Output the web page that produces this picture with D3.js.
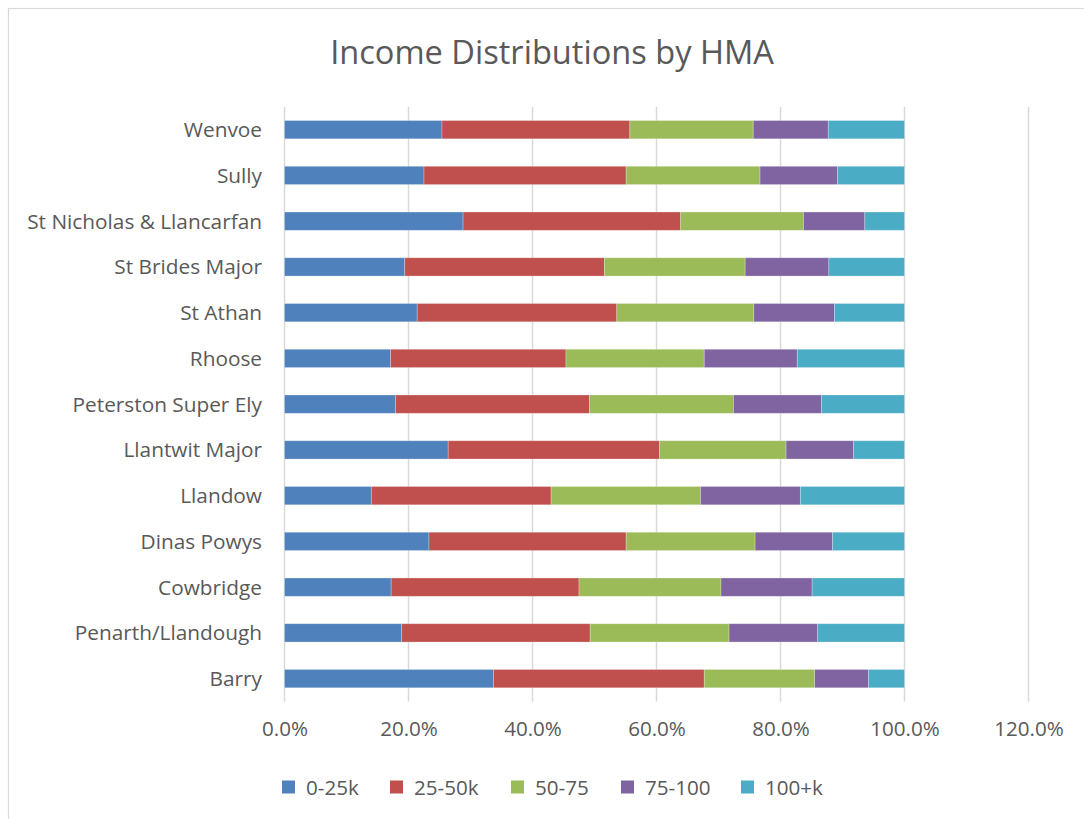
<!DOCTYPE html>
<html><head><meta charset="utf-8">
<script src="https://cdn.jsdelivr.net/npm/d3@7"></script>
<style>body{margin:0;background:#fff;} text{font-family:"Open Sans",Lato,sans-serif;fill:#595959;}</style>
</head><body><svg id="c" width="1084" height="819"></svg>
<script>
const categories = ["Wenvoe","Sully","St Nicholas & Llancarfan","St Brides Major","St Athan","Rhoose","Peterston Super Ely","Llantwit Major","Llandow","Dinas Powys","Cowbridge","Penarth/Llandough","Barry"];
const seriesNames = ["0-25k","25-50k","50-75","75-100","100+k"];
const s0_25k  = [25.4,22.5,28.8,19.4,21.4,17.1,17.9,26.4,14.0,23.3,17.2,18.9,33.7];
const s25_50k = [30.3,32.6,35.1,32.2,32.2,28.3,31.3,34.1,29.0,31.8,30.3,30.4,34.0];
const s50_75  = [19.9,21.6,19.8,22.7,22.1,22.3,23.2,20.4,24.1,20.8,22.9,22.4,17.8];
const s75_100 = [12.1,12.5, 9.9,13.5,13.0,15.0,14.2,10.9,16.1,12.5,14.7,14.3, 8.7];
const s100k   = [12.3,10.8, 6.4,12.2,11.3,17.3,13.4, 8.2,16.8,11.6,14.9,14.0, 5.8];
const tickValues = [0,20,40,60,80,100,120];
const colors = ["#4F81BD","#C0504D","#9BBB59","#8064A2","#4BACC6"];

const seriesValues = [s0_25k,s25_50k,s50_75,s75_100,s100k];
const rows = categories.map((c,i)=>{const r={cat:c}; seriesNames.forEach((s,j)=>r[s]=seriesValues[j][i]); return r;});
const stacked = d3.stack().keys(seriesNames)(rows);

const svg = d3.select("#c");
// outer border
svg.append("rect").attr("x",8.5).attr("y",8.5).attr("width",1100).attr("height",820)
  .attr("fill","none").attr("stroke","#d9d9d9").attr("stroke-width",1.2);

const x = d3.scaleLinear().domain([0,120]).range([284.5,1028.5]);
const y = d3.scaleBand().domain(categories).range([106.8,701.5]).paddingInner(0.6).paddingOuter(0.3);

// gridlines
svg.append("g").selectAll("line").data(tickValues).join("line")
  .attr("x1",d=>x(d)).attr("x2",d=>x(d)).attr("y1",106.8).attr("y2",701.5)
  .attr("stroke","#d9d9d9").attr("stroke-width",1.5);

// bars
svg.append("g").selectAll("g").data(stacked).join("g")
  .attr("fill",(d,i)=>colors[i])
  .selectAll("rect").data(d=>d).join("rect")
  .attr("x",d=>x(d[0])).attr("width",d=>x(d[1])-x(d[0]))
  .attr("y",d=>y(d.data.cat)).attr("height",y.bandwidth())
  .attr("stroke","#ffffff").attr("stroke-opacity",0.35).attr("stroke-width",0.75);

// category labels
const yAxis = d3.axisLeft(y).tickSize(0).tickPadding(0);
const ya = svg.append("g").attr("transform","translate(262,0)").call(yAxis);
ya.select(".domain").remove();
ya.selectAll("text").style("font-size","20.8px").style("font-family","'Open Sans',sans-serif").attr("fill","#595959").attr("dy","0.36em");

// x tick labels
const xAxis = d3.axisBottom(x).tickValues(tickValues).tickSize(0).tickFormat(d=>d.toFixed(1)+"%");
const xa = svg.append("g").attr("transform","translate(0,718.5)").call(xAxis);
xa.select(".domain").remove();
xa.selectAll("text").style("font-size","20.6px").style("font-family","'Open Sans',sans-serif").attr("fill","#595959");

// title
svg.append("text").attr("x",552).attr("y",64).attr("text-anchor","middle")
  .style("font-size","32.6px").text("Income Distributions by HMA");

// legend
const legX = [282,390,511,621,741];
const lg = svg.append("g").selectAll("g").data(seriesNames).join("g")
  .attr("transform",(d,i)=>`translate(${legX[i]},780)`);
lg.append("rect").attr("width",13).attr("height",13).attr("y",0.5).attr("fill",(d,i)=>colors[i]);
lg.append("text").attr("x",24).attr("y",14.5).style("font-size","20.6px").text(d=>d);
</script></body></html>
